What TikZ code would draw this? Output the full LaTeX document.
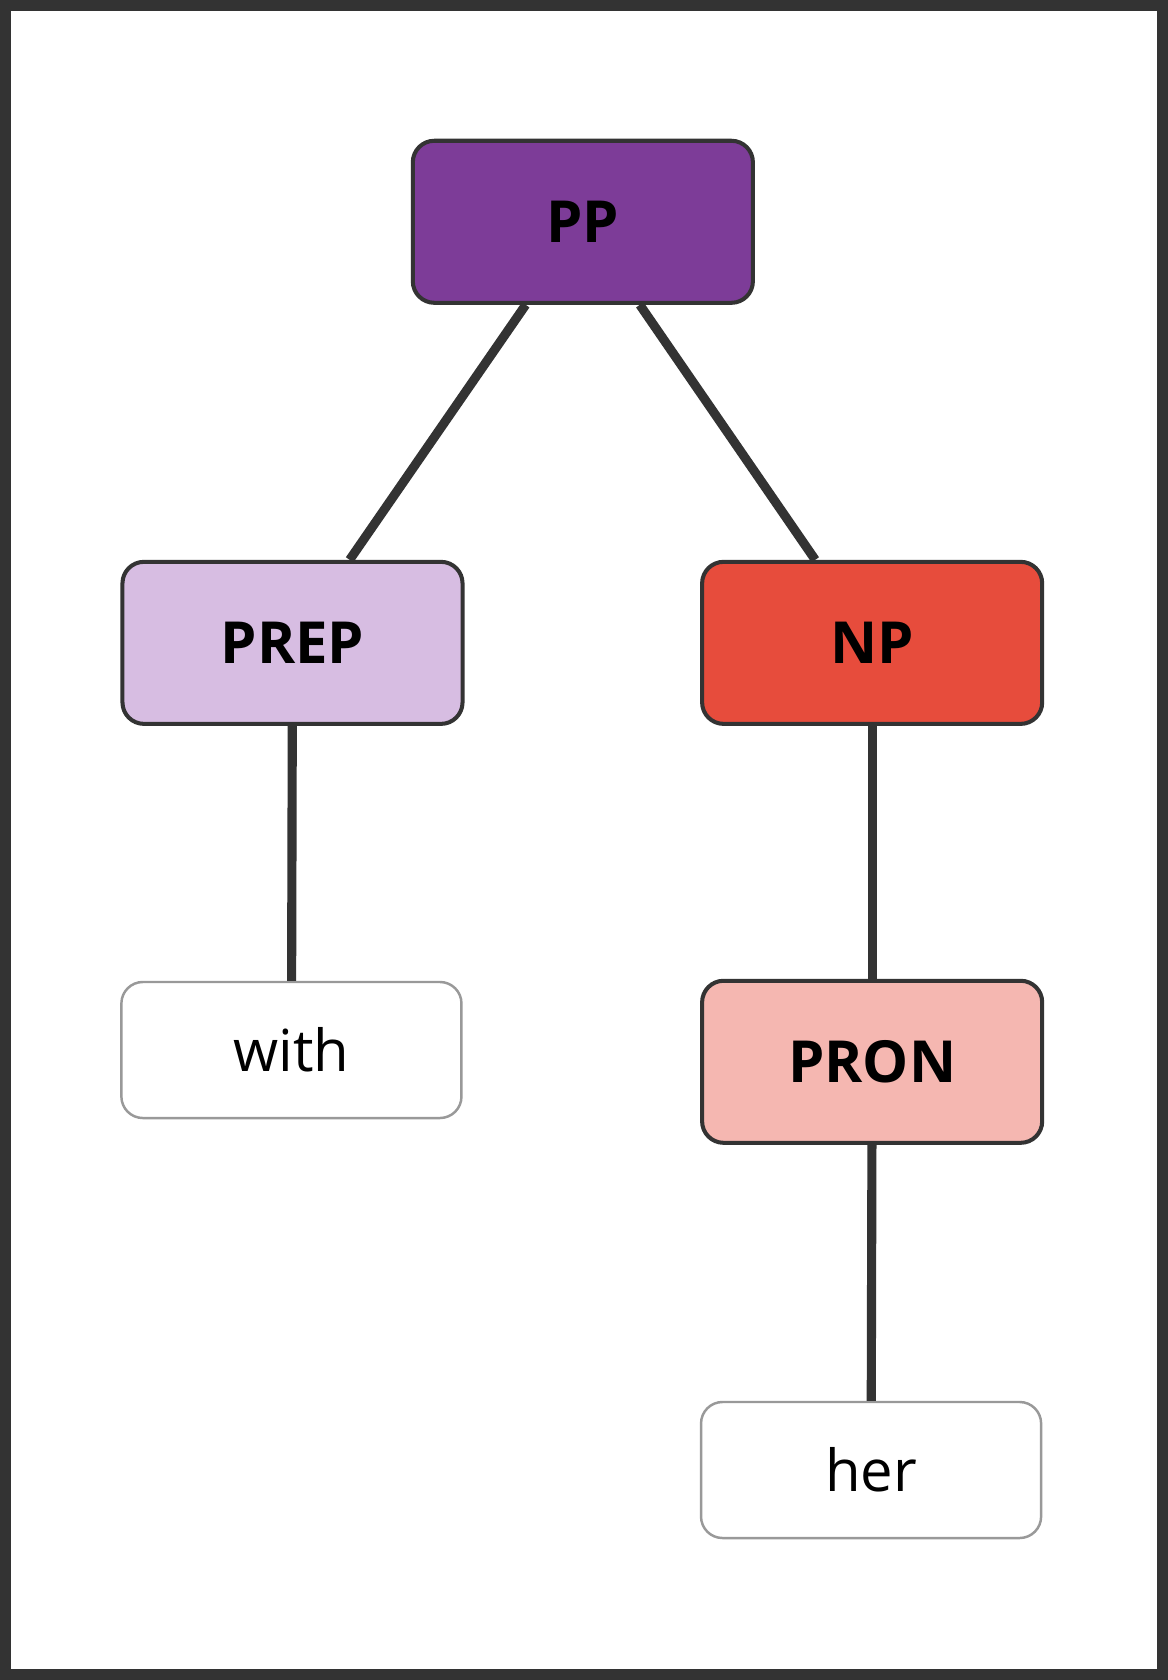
\documentclass[tikz,border=0pt]{standalone}
\usepackage{fontspec}
\setmainfont{Open Sans}
\definecolor{edgegray}{HTML}{333333}
\definecolor{ppcol}{HTML}{7D3C98}
\definecolor{prepcol}{HTML}{D7BDE2}
\definecolor{npcol}{HTML}{E74C3C}
\definecolor{proncol}{HTML}{F5B7B1}
\begin{document}
\begin{tikzpicture}[x=0.02143cm,y=-0.02143cm,
    phrase/.style={draw=edgegray,line width=2.3pt,rounded corners=0.43cm,
      minimum width=6.8cm,minimum height=3.24cm,font=\fontsize{33}{36}\selectfont\bfseries},
    word/.style={draw=gray!80,line width=1.4pt,rounded corners=0.43cm,fill=white,
      minimum width=6.8cm,minimum height=2.72cm,font=\fontsize{33}{36}\selectfont},
    branch/.style={draw=edgegray,line width=5.2pt}]
      \fill[edgegray] (0,0) rectangle (1090,1568);
      \fill[white] (10,10) rectangle (1080,1558);

      \node[phrase,fill=ppcol] (pp) at (544,207) {PP};
      \node[phrase,fill=prepcol] (prep) at (273,600) {PREP};
      \node[phrase,fill=npcol] (np) at (814,600) {NP};
      \node[word] (with) at (272,980) {with};
      \node[phrase,fill=proncol] (pron) at (814,991) {PRON};
      \node[word] (her) at (813,1372) {her};

      \draw[branch] (pp) -- (prep);
      \draw[branch] (pp) -- (np);
      \draw[branch] (prep) -- (with);
      \draw[branch] (np) -- (pron);
      \draw[branch] (pron) -- (her);
\end{tikzpicture}
\end{document}
